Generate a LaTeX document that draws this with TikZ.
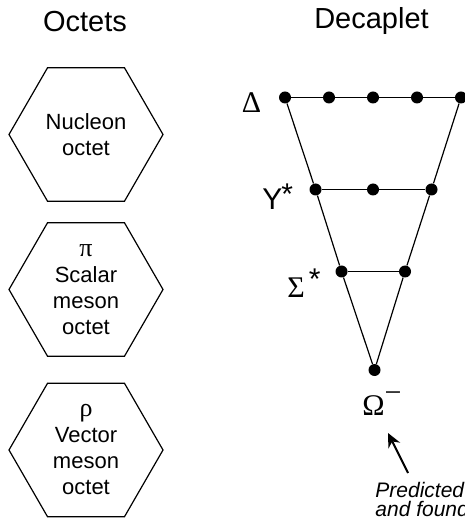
\documentclass[tikz,border=0pt]{standalone}
\usepackage{fontspec}
\setmainfont{Liberation Sans}
\newfontfamily\grk{Liberation Serif}
\usetikzlibrary{shapes.geometric,arrows.meta}

\tikzset{
  hexa/.style={draw, line width=0.6pt, regular polygon, regular polygon sides=6,
    minimum size=77pt, inner sep=0pt, align=center,
    font=\fontsize{11}{13}\selectfont},
  dot/.style={circle, fill, inner sep=0pt, minimum size=6pt},
  title/.style={font=\fontsize{14.5}{16}\selectfont},
  glabel/.style={inner sep=0pt, anchor=base west, font=\grk\fontsize{15}{17}\selectfont}
}
\newcommand\starup[1]{\raisebox{#1}{\fontspec{Liberation Sans}*}}

\begin{document}
\begin{tikzpicture}[x=0.5pt,y=-0.5pt]
  \useasboundingbox (0,0) rectangle (464,522);

  % titles
  \node[title] (toct) at (85,21.5) {Octets};
  \node[title] (tdec) at (371.5,21.5) {Decaplet};

  % the three octets
  \node[hexa] (nuc) at (86,134.5) {Nucleon\\octet};
  \node[hexa] (scal) at (86,289.5) {{\grk\fontsize{13}{13}\selectfont π}\\Scalar\\meson\\octet};
  \node[hexa] (vect) at (86,450) {{\grk\fontsize{13}{13}\selectfont ρ}\\Vector\\meson\\octet};

  % decaplet points
  \node[dot] (d1) at (285,97.5) {};
  \node[dot] (d2) at (329,97.5) {};
  \node[dot] (d3) at (373,97.5) {};
  \node[dot] (d4) at (417,97.5) {};
  \node[dot] (d5) at (461,97.5) {};
  \node[dot] (y1) at (315.5,189.5) {};
  \node[dot] (y2) at (373,189.5) {};
  \node[dot] (y3) at (431.5,189.5) {};
  \node[dot] (s1) at (341.5,271.5) {};
  \node[dot] (s2) at (405,271.5) {};
  \node[dot] (om) at (374.5,370) {};

  \draw[line width=0.6pt] (d1) -- (d2) -- (d3) -- (d4) -- (d5);
  \draw[line width=0.6pt] (y1) -- (y2) -- (y3);
  \draw[line width=0.6pt] (s1) -- (s2);
  \draw[line width=0.6pt] (d1) -- (y1) -- (s1) -- (om);
  \draw[line width=0.6pt] (d5) -- (y3) -- (s2) -- (om);

  % labels
  \node[glabel, anchor=center] (ldel) at (251.5,102.5) {Δ};
  \node[inner sep=0pt, anchor=base west, font=\fontsize{15}{17}\selectfont] (lys) at (262,210) {Y\kern-0.5pt\starup{2.5pt}};
  \node[glabel] (lsig) at (287,298) {Σ\kern2pt\starup{4pt}};
  \node[glabel] (lom) at (362,415) {Ω\raisebox{6.5pt}{−}};

  % the prediction
  \node[inner sep=0pt, anchor=north west, align=left,
    font=\itshape\fontsize{10.5}{9.5}\selectfont] (pred) at (375,482) {Predicted\\and found};
  \coordinate (tail) at (408,473);
  \coordinate (tip) at (388,433);
  \draw[line width=1pt, -{Stealth[length=7pt,width=6.5pt]}] (tail) -- (tip);
\end{tikzpicture}
\end{document}
